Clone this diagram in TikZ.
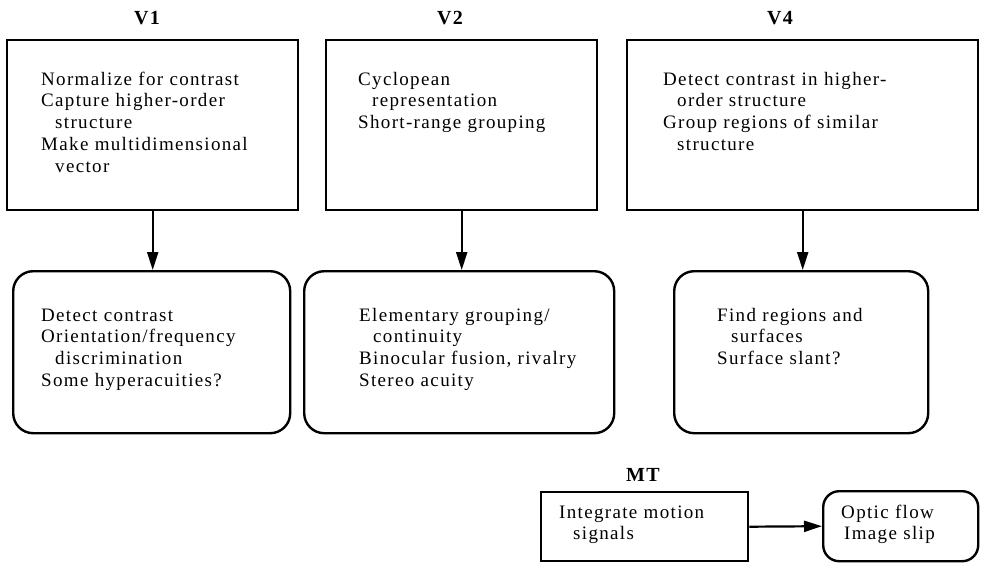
\documentclass[tikz,border=0pt]{standalone}
\usepackage{fontspec}
\setmainfont{Liberation Serif}[LetterSpace=7]
\usetikzlibrary{arrows.meta}
\tikzset{%
    every node/.style={inner sep=0pt, font=\fontsize{9.5pt}{10.85pt}\selectfont},
    area/.style={draw, line width=1.2pt, anchor=north west, align=left,
        text height=22.5pt, text depth=62.5pt},
    task/.style={area, rounded corners=10pt, text height=25pt, text depth=56pt},
    areatitle/.style={font=\fontsize{10pt}{12pt}\selectfont\bfseries},
    flow/.style={-{Triangle[length=9pt, width=5.5pt]}, line width=1.1pt}
}
\newcommand{\ind}{\hspace*{7pt}}

\begin{document}
\begin{tikzpicture}[x=0.5pt, y=-0.5pt]
  \useasboundingbox (0,0) rectangle (983,562);
  \node (v1n) [areatitle] at (147,18) {V1};
  \node (v2n) [areatitle] at (450,18) {V2};
  \node (v4n) [areatitle] at (780,18) {V4};
  \node (mtn) [areatitle] at (643,475) {MT};

  \node (v1) [area, text width=145.5pt] at (6,39) {\leftskip=17pt
    Normalize for contrast\\Capture higher-order\\\ind structure\\
    Make multidimensional\\\ind vector\par};
  \node (v2) [area, text width=135.5pt] at (325,39) {\leftskip=16pt
    Cyclopean\\\ind representation\\Short-range grouping\par};
  \node (v4) [area, text width=175.5pt] at (626,39) {\leftskip=18pt
    Detect contrast in higher-\\\ind order structure\\
    Group regions of similar\\\ind structure\par};

  \node (v1f) [task, text width=138.5pt] at (12,270) {\leftskip=14pt
    Detect contrast\\Orientation/frequency\\\ind discrimination\\
    Some hyperacuities?\par};
  \node (v2f) [task, text width=155pt] at (303,270) {\leftskip=27.5pt
    Elementary grouping/\\\ind continuity\\Binocular fusion, rivalry\\
    Stereo acuity\par};
  \node (v4f) [task, text width=127pt] at (673,270) {\leftskip=21.5pt
    Find regions and\\\ind surfaces\\Surface slant?\par};

  \node (mt) [area, text width=103.5pt, text height=13pt, text depth=21.5pt]
    at (540,491) {\leftskip=9pt Integrate motion\\\ind signals\par};
  \node (mtf) [task, rounded corners=8pt, text width=77.5pt,
    text height=13.5pt, text depth=21.5pt] at (822,490)
    {\leftskip=9pt Optic flow\\\hspace*{1.5pt}Image slip\par};

  \draw [flow] (v1.south) -- (v1.south |- v1f.north);
  \draw [flow] (v2.south) -- (v2.south |- v2f.north);
  \draw [flow] (v4.south) -- (v4.south |- v4f.north);
  \draw [flow] (mt.east) -- (mtf.west);
\end{tikzpicture}
\end{document}
